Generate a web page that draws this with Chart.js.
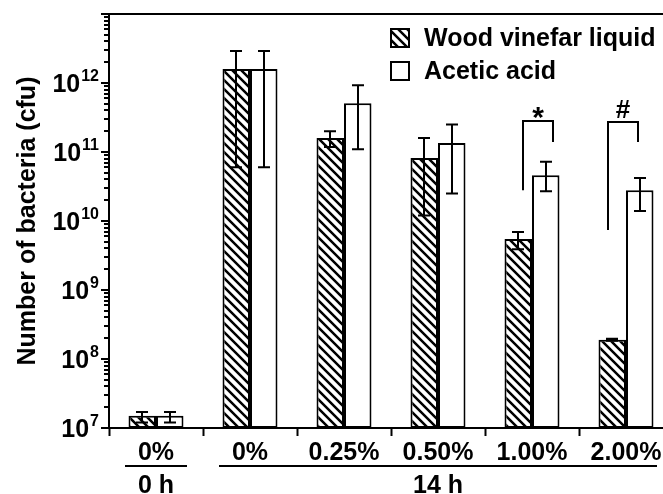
<!DOCTYPE html>
<html>
<head>
<meta charset="utf-8">
<script src="https://cdn.jsdelivr.net/npm/chart.js@4.4.1/dist/chart.umd.min.js"></script>
<style>
    html, body { margin: 0; padding: 0; background: #fff; overflow: hidden; }
    #wrap { width: 673px; height: 494px; }
</style>
</head>
<body>
<div id="wrap"><canvas id="bacteria-chart"></canvas></div>
<script>
// values (cfu, log axis)
const categories = ['0%', '0%', '0.25%', '0.50%', '1.00%', '2.00%'];
const timeGroups = ['0 h', '14 h'];
const timeGroupFirst = [0, 1];
const timeGroupLast = [0, 5];
const seriesNames = ['Wood vinefar liquid', 'Acetic acid'];

const woodMean = [1.5e7, 1.6e12, 1.6e11, 8.2e10, 5.5e9, 1.9e8];
const woodHigh = [1.7e7, 2.9e12, 2.0e11, 1.6e11, 6.9e9, 1.96e8];
const woodLow = [1.2e7, 6.0e10, 1.18e11, 1.2e10, 3.9e9, 1.84e8];

const aceticMean = [1.5e7, 1.6e12, 5.1e11, 1.35e11, 4.6e10, 2.8e10];
const aceticHigh = [1.7e7, 2.9e12, 9.3e11, 2.5e11, 7.2e10, 4.2e10];
const aceticLow = [1.2e7, 6.0e10, 1.1e11, 2.5e10, 2.7e10, 1.4e10];

const yMin = 1e7;
const yMax = 1e13;
const yTickExponents = [7, 8, 9, 10, 11, 12];

const sigSymbols = ['*', '#'];
const sigCategory = [4, 5];
const sigTop = [2.8e11, 2.7e11];
const sigLeftEnd = [2.8e10, 7.4e9];
const sigRightEnd = [1.4e11, 1.4e11];

// drawing settings
const FONT = "'Liberation Sans', Arial, Helvetica, sans-serif";
const sigLegOffsets = [[-0.096, 0.223], [-0.191, 0.128]];

function makeHatch() {
    const size = 9;
    const c = document.createElement('canvas');
    c.width = size;
    c.height = size;
    const g = c.getContext('2d');
    g.fillStyle = '#fff';
    g.fillRect(0, 0, size, size);
    g.strokeStyle = '#000';
    g.lineWidth = 2.5;
    g.beginPath();
    for (let k = -1; k <= 1; k++) {
        g.moveTo(k * size - 3, -3);
        g.lineTo(k * size + size + 3, size + 3);
    }
    g.stroke();
    return g.createPattern(c, 'repeat');
}

const errorBars = {
    id: 'errorBars',
    afterDatasetsDraw(chart) {
        const ctx = chart.ctx;
        const y = chart.scales.y;
        ctx.save();
        ctx.strokeStyle = '#000';
        ctx.lineWidth = 2;
        chart.data.datasets.forEach((ds, di) => {
            chart.getDatasetMeta(di).data.forEach((bar, i) => {
                const top = y.getPixelForValue(ds.errHigh[i]);
                const bot = y.getPixelForValue(ds.errLow[i]);
                const x = Math.round(bar.x);
                ctx.beginPath();
                ctx.moveTo(x, top);
                ctx.lineTo(x, bot);
                ctx.moveTo(x - 6, top);
                ctx.lineTo(x + 6, top);
                ctx.moveTo(x - 6, bot);
                ctx.lineTo(x + 6, bot);
                ctx.stroke();
            });
        });
        ctx.restore();
    }
};

const decorations = {
    id: 'decorations',
    afterDraw(chart) {
        const ctx = chart.ctx;
        const area = chart.chartArea;
        const x = chart.scales.x;
        const y = chart.scales.y;
        ctx.save();
        ctx.strokeStyle = '#000';
        ctx.fillStyle = '#000';
        ctx.lineWidth = 2;

        // left axis and top frame
        ctx.beginPath();
        ctx.moveTo(area.left, area.bottom);
        ctx.lineTo(area.left, area.top);
        ctx.lineTo(area.right, area.top);
        ctx.stroke();

        // log ticks
        ctx.beginPath();
        for (let e = 7; e <= 13; e++) {
            const py = Math.round(y.getPixelForValue(Math.pow(10, e)));
            ctx.moveTo(area.left - 8, py);
            ctx.lineTo(area.left, py);
            if (e < 13) {
                for (let k = 2; k <= 9; k++) {
                    const my = Math.round(y.getPixelForValue(k * Math.pow(10, e)));
                    ctx.moveTo(area.left - 5, my);
                    ctx.lineTo(area.left, my);
                }
            }
        }
        ctx.stroke();

        // tick labels 10^n
        ctx.textBaseline = 'alphabetic';
        yTickExponents.forEach(e => {
            const py = y.getPixelForValue(Math.pow(10, e));
            const sup = String(e);
            ctx.font = 'bold 16px ' + FONT;
            const supW = ctx.measureText(sup).width;
            const right = area.left - 10;
            ctx.textAlign = 'right';
            ctx.fillText(sup, right, py - 2);
            ctx.font = 'bold 25px ' + FONT;
            ctx.fillText('10', right - supW - 1, py + 9);
        });

        // axis title
        ctx.save();
        ctx.translate(28, (area.top + area.bottom) / 2);
        ctx.rotate(-Math.PI / 2);
        ctx.textAlign = 'center';
        ctx.textBaseline = 'middle';
        ctx.font = 'bold 25px ' + FONT;
        ctx.fillText('Number of bacteria (cfu)', 0, 0);
        ctx.restore();

        // time groups under the category labels
        ctx.font = 'bold 25px ' + FONT;
        ctx.textAlign = 'center';
        ctx.textBaseline = 'middle';
        timeGroups.forEach((label, gi) => {
            const x0 = x.getPixelForValue(timeGroupFirst[gi] - 0.5) + 16;
            const x1 = x.getPixelForValue(timeGroupLast[gi] + 0.5) - 16;
            const c0 = x.getPixelForValue(timeGroupFirst[gi]);
            const c1 = x.getPixelForValue(timeGroupLast[gi]);
            ctx.beginPath();
            ctx.moveTo(x0, 466);
            ctx.lineTo(x1, 466);
            ctx.stroke();
            ctx.fillText(label, (c0 + c1) / 2, 486);
        });

        // significance brackets
        sigSymbols.forEach((sym, si) => {
            const c = sigCategory[si];
            const lx = Math.round(x.getPixelForValue(c + sigLegOffsets[si][0]));
            const rx = Math.round(x.getPixelForValue(c + sigLegOffsets[si][1]));
            const ty = Math.round(y.getPixelForValue(sigTop[si]));
            ctx.beginPath();
            ctx.moveTo(lx, y.getPixelForValue(sigLeftEnd[si]));
            ctx.lineTo(lx, ty);
            ctx.lineTo(rx, ty);
            ctx.lineTo(rx, y.getPixelForValue(sigRightEnd[si]));
            ctx.stroke();
            ctx.textBaseline = 'alphabetic';
            if (sym === '*') {
                ctx.font = 'bold 30px ' + FONT;
                ctx.fillText(sym, (lx + rx) / 2, ty + 6);
            } else {
                ctx.font = 'bold 26px ' + FONT;
                ctx.fillText(sym, (lx + rx) / 2, ty - 4);
            }
        });

        // legend inside the plot
        ctx.textAlign = 'left';
        ctx.textBaseline = 'middle';
        chart.data.datasets.forEach((ds, di) => {
            const by = 29 + di * 33;
            ctx.fillStyle = ds.backgroundColor;
            ctx.fillRect(391, by, 18, 18);
            ctx.strokeRect(391, by, 18, 18);
            ctx.fillStyle = '#000';
            ctx.font = 'bold 25px ' + FONT;
            ctx.fillText(ds.label, 424, by + 10);
        });
        ctx.restore();
    }
};

const ctx = document.getElementById('bacteria-chart');
const bacteriaChart = new Chart(ctx, {
    type: 'bar',
    data: {
        labels: categories,
        datasets: [
            {
                label: seriesNames[0],
                data: woodMean,
                errHigh: woodHigh,
                errLow: woodLow,
                backgroundColor: makeHatch(),
                borderColor: '#000',
                borderWidth: 2,
                borderSkipped: false,
            },
            {
                label: seriesNames[1],
                data: aceticMean,
                errHigh: aceticHigh,
                errLow: aceticLow,
                backgroundColor: '#fff',
                borderColor: '#000',
                borderWidth: 2,
                borderSkipped: false,
            }
        ]
    },
    options: {
        responsive: true,
        maintainAspectRatio: false,
        animation: false,
        categoryPercentage: 0.585,
        barPercentage: 1.0,
        layout: {
            padding: { left: 109, top: 14, right: 0, bottom: 24 }
        },
        plugins: {
            legend: { display: false },
            tooltip: { enabled: false }
        },
        scales: {
            x: {
                grid: {
                    offset: true,
                    drawOnChartArea: false,
                    drawTicks: true,
                    tickLength: 8,
                    tickColor: '#000',
                    tickWidth: 2
                },
                border: { display: true, color: '#000', width: 2 },
                ticks: {
                    color: '#000',
                    padding: 2,
                    maxRotation: 0,
                    font: { family: FONT, size: 25, weight: 'bold' }
                }
            },
            y: {
                type: 'logarithmic',
                display: false,
                min: yMin,
                max: yMax
            }
        }
    },
    plugins: [errorBars, decorations]
});
</script>
</body>
</html>
